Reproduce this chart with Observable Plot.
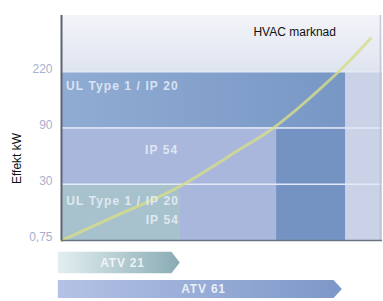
<!DOCTYPE html>
<html><head><meta charset="utf-8">
<script src="https://cdn.jsdelivr.net/npm/d3@7"></script>
<script src="https://cdn.jsdelivr.net/npm/@observablehq/plot@0.6"></script>
<style>body{margin:0;background:#fff}</style>
</head><body><div id="chart"></div>
<script>
// Power levels (y axis, categorical steps)
const levelLabels = ["0,75", "30", "90", "220"];
const levelIndex = [0, 1, 2, 3];

// Regions of the chart (x in arbitrary range units 0–100, y in level steps)
const regionNames = ["top", "rightCol", "darkBand", "midLight", "darkCol", "teal"];
const regionX1 = [0, 88.5, 0, 0, 67, 0];
const regionX2 = [100, 100, 88.5, 67, 88.5, 37];
const regionY1 = [3, 0, 2, 0, 0, 0];
const regionY2 = [4, 3, 3, 2, 2, 1];
const regionFill = ["url(#gTop)", "#cbd2e7", "url(#gBand)", "#aab7dd", "#7493c3", "#a8c2cd"];

// HVAC market curve
const curveX = [0, 17.8, 35.5, 55.8, 66, 86.3, 96.3];
const curveY = [0, 0.46, 0.92, 1.63, 2, 3, 3.59];

// Labels inside regions
const labelText = ["UL Type 1 / IP 20", "IP 54", "UL Type 1 / IP 20", "IP 54"];
const labelX = [1.4, 31.2, 36.6, 36.6];
const labelY = [2.74, 1.6, 0.7, 0.36];
const labelAnchor = ["start", "middle", "end", "end"];

// Product ranges (arrows)
const productNames = ["ATV 21", "ATV 61"];
const productEnd = [37, 87.5];
const productTop = [-0.21, -0.71];
const productBottom = [-0.59, -1.03];
const productFill = ["url(#gA21)", "url(#gA61)"];

const regions = regionNames.map((n, i) => ({n, x1: regionX1[i], x2: regionX2[i], y1: regionY1[i], y2: regionY2[i], fill: regionFill[i]}));
const curve = curveX.map((x, i) => ({x, y: curveY[i]}));
const labels = labelText.map((t, i) => ({t, x: labelX[i], y: labelY[i], a: labelAnchor[i]}));
const arrows = [];
productNames.forEach((p, i) => {
  const t = productTop[i], b = productBottom[i], e = productEnd[i], m = (t + b) / 2;
  arrows.push({p, x: -1, y1: t, y2: b}, {p, x: e - 2.6, y1: t, y2: b}, {p, x: e, y1: m, y2: m});
});
const arrowLabels = productNames.map((p, i) => ({p, x: productEnd[i] / 2 + 0.5, y: (productTop[i] + productBottom[i]) / 2}));

const labelStyle = {x: "x", y: "y", text: "t", fill: "#eef3fa", fillOpacity: 0.8, fontSize: 12, fontWeight: "bold"};

const chart = Plot.plot({
  width: 383, height: 301,
  marginLeft: 61, marginRight: 1, marginTop: 15, marginBottom: 0,
  style: {fontFamily: "Liberation Sans, Arial, sans-serif", background: "#fff"},
  x: {domain: [0, 100], axis: null},
  y: {domain: [-1.084, 4], axis: null},
  marks: [
    Plot.rect(regions, {x1: "x1", x2: "x2", y1: "y1", y2: "y2", fill: "fill"}),
    Plot.ruleY([1, 2, 3], {x1: 0, x2: 100, stroke: "#e2e9f7", strokeWidth: 1.6}),
    Plot.ruleX([99.3], {y1: 0, y2: 4, stroke: "#b6bdd4", strokeWidth: 1}),
    Plot.line(curve, {x: "x", y: "y", curve: "catmull-rom", stroke: "#d6dd8a", strokeWidth: 3, strokeOpacity: 0.8}),
    Plot.ruleX([0], {y1: 0, y2: 4, stroke: "#5d6270", strokeWidth: 2}),
    Plot.ruleY([0], {x1: 0, x2: 100, stroke: "#6c7384", strokeWidth: 1.5}),
    Plot.text(labels.filter(d => d.a === "start"), {...labelStyle, textAnchor: "start"}),
    Plot.text(labels.filter(d => d.a === "middle"), {...labelStyle, textAnchor: "middle"}),
    Plot.text(labels.filter(d => d.a === "end"), {...labelStyle, textAnchor: "end"}),
    Plot.text(["HVAC marknad"], {x: 59.8, y: 3.7, textAnchor: "start", fill: "#111", fontSize: 12}),
    Plot.areaY(arrows, {x: "x", y1: "y1", y2: "y2", z: "p", fill: (d) => productFill[productNames.indexOf(d.p)], curve: "linear"}),
    Plot.text(arrowLabels, {x: "x", y: "y", text: "p", fill: "#f6f8fc", fillOpacity: 0.9, fontSize: 12, fontWeight: "bold"}),
    Plot.axisY({ticks: levelIndex, tickFormat: (d) => levelLabels[d], tickSize: 0, tickPadding: 9, dy: -3, fontSize: 12, color: "#a7afce",
      label: "Effekt kW", labelAnchor: "center", labelArrow: "none", labelOffset: 49})
  ]
});

const defs = d3.select(chart).insert("defs", ":first-child");
function grad(id, stops, vertical) {
  const g = defs.append("linearGradient").attr("id", id)
    .attr("x1", 0).attr("y1", 0).attr("x2", vertical ? 0 : 1).attr("y2", vertical ? 1 : 0);
  stops.forEach(([o, c]) => g.append("stop").attr("offset", o).attr("stop-color", c));
}
grad("gTop", [[0, "#f3f4f9"], [1, "#dfe4f0"]], true);
grad("gBand", [[0, "#90acd3"], [1, "#7897c5"]], false);
grad("gA21", [[0, "#e2eff1"], [1, "#89abb4"]], false);
grad("gA61", [[0, "#b4c2e5"], [1, "#7c97c8"]], false);
d3.select(chart).selectAll("[aria-label='y-axis label'] text").attr("fill", "#111").attr("font-size", 12);
d3.select(chart).selectAll("g[fill='#eef3fa']").style("letter-spacing", "1.1px");
d3.select(chart).selectAll("g[fill='#f6f8fc']").style("letter-spacing", "0.8px");
document.getElementById("chart").appendChild(chart);
</script></body></html>
